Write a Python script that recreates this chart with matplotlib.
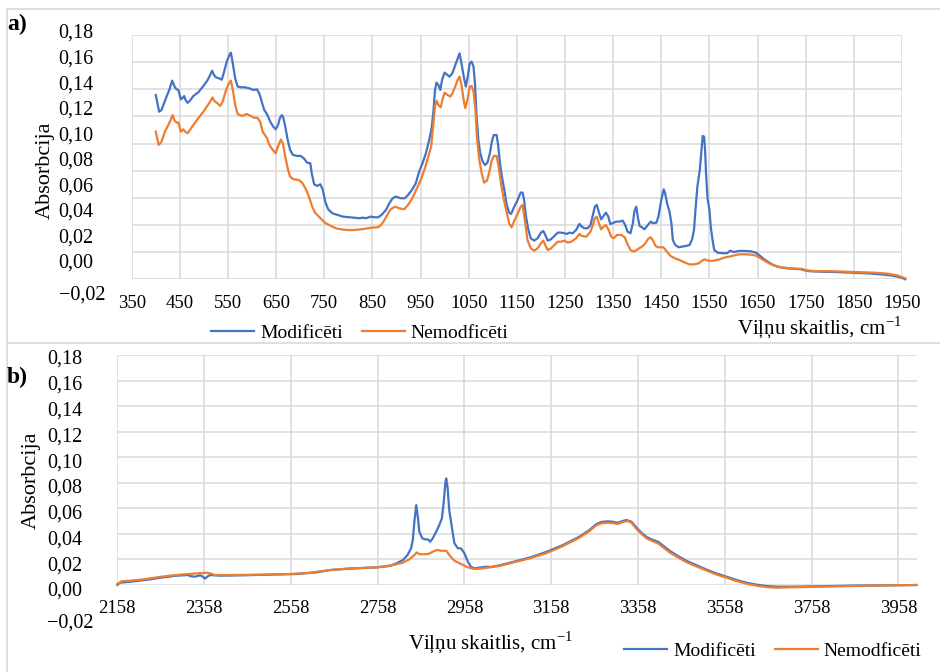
import matplotlib
matplotlib.use("Agg")
import matplotlib.pyplot as plt
from matplotlib.lines import Line2D

plt.rcParams['font.family'] = 'Liberation Serif'
plt.rcParams['font.size'] = 14
plt.rcParams['mathtext.fontset'] = 'custom'
plt.rcParams['mathtext.rm'] = 'Liberation Serif'

#a) 400-1950 cm-1, modified sample
wn_a_mod = [400, 407, 412, 421, 428, 434, 439, 443, 447, 452, 455, 459, 462, 466, 471, 478, 489, 499, 507, 513,
            517, 521, 525, 532, 537, 542, 547, 553, 556, 560, 565, 570, 576, 585, 596, 603, 610, 615, 620, 625,
            632, 638, 644, 649, 654, 658, 662, 665, 669, 674, 679, 685, 693, 701, 708, 714, 721, 724, 729, 735,
            742, 747, 752, 758, 767, 778, 788, 802, 812, 823, 830, 836, 847, 854, 862, 869, 878, 885, 892, 899,
            909, 917, 924, 933, 940, 947, 954, 961, 968, 973, 977, 980, 983, 987, 991, 995, 1000, 1006, 1010, 1016,
            1021, 1027, 1031, 1035, 1041, 1044, 1048, 1052, 1056, 1060, 1063, 1066, 1070, 1074, 1079, 1084, 1089, 1094, 1098, 1102,
            1108, 1111, 1115, 1119, 1124, 1129, 1134, 1138, 1144, 1151, 1158, 1162, 1165, 1169, 1174, 1179, 1186, 1193, 1200, 1205,
            1209, 1214, 1221, 1228, 1235, 1242, 1249, 1254, 1259, 1266, 1273, 1280, 1285, 1290, 1297, 1303, 1308, 1312, 1316, 1320,
            1325, 1330, 1335, 1340, 1344, 1349, 1356, 1363, 1370, 1375, 1380, 1386, 1391, 1394, 1398, 1401, 1405, 1410, 1415, 1422,
            1428, 1433, 1440, 1444, 1450, 1455, 1458, 1462, 1467, 1471, 1474, 1479, 1486, 1493, 1502, 1509, 1514, 1518, 1521, 1525,
            1530, 1533, 1536, 1539, 1541, 1543, 1546, 1550, 1553, 1557, 1560, 1567, 1578, 1587, 1593, 1600, 1612, 1622, 1636, 1647,
            1653, 1664, 1674, 1684, 1698, 1712, 1729, 1740, 1750, 1760, 1781, 1809, 1843, 1878, 1905, 1926, 1940, 1950, 1957]
abs_a_mod = [0.1358, 0.1235, 0.1248, 0.1334, 0.1395, 0.1464, 0.1420, 0.1400, 0.1395, 0.1326, 0.1334, 0.1350, 0.1320, 0.1300, 0.1316, 0.1350, 0.1380, 0.1425, 0.1464, 0.1505,
             0.1537, 0.1505, 0.1488, 0.1480, 0.1470, 0.1530, 0.1600, 0.1653, 0.1670, 0.1590, 0.1480, 0.1420, 0.1415, 0.1415, 0.1405, 0.1395, 0.1400, 0.1370, 0.1310, 0.1250,
             0.1210, 0.1160, 0.1125, 0.1105, 0.1137, 0.1190, 0.1210, 0.1190, 0.1125, 0.1027, 0.0953, 0.0916, 0.0909, 0.0909, 0.0890, 0.0860, 0.0855, 0.0780, 0.0700, 0.0688,
             0.0700, 0.0658, 0.0572, 0.0516, 0.0486, 0.0474, 0.0462, 0.0457, 0.0454, 0.0450, 0.0454, 0.0450, 0.0462, 0.0457, 0.0457, 0.0474, 0.0510, 0.0560, 0.0597, 0.0609,
             0.0597, 0.0597, 0.0621, 0.0663, 0.0707, 0.0793, 0.0855, 0.0928, 0.1027, 0.1113, 0.1248, 0.1395, 0.1449, 0.1432, 0.1395, 0.1474, 0.1523, 0.1505, 0.1493, 0.1518,
             0.1567, 0.1628, 0.1665, 0.1590, 0.1469, 0.1420, 0.1493, 0.1590, 0.1604, 0.1567, 0.1444, 0.1223, 0.1027, 0.0928, 0.0867, 0.0842, 0.0860, 0.0928, 0.1014, 0.1063,
             0.1063, 0.0990, 0.0855, 0.0756, 0.0658, 0.0548, 0.0491, 0.0481, 0.0530, 0.0580, 0.0639, 0.0639, 0.0585, 0.0462, 0.0363, 0.0302, 0.0285, 0.0302, 0.0344, 0.0356,
             0.0327, 0.0285, 0.0295, 0.0319, 0.0344, 0.0344, 0.0339, 0.0334, 0.0344, 0.0339, 0.0363, 0.0408, 0.0388, 0.0376, 0.0376, 0.0400, 0.0474, 0.0535, 0.0548, 0.0499,
             0.0442, 0.0467, 0.0491, 0.0462, 0.0408, 0.0413, 0.0425, 0.0425, 0.0432, 0.0400, 0.0351, 0.0339, 0.0413, 0.0499, 0.0535, 0.0462, 0.0393, 0.0383, 0.0368, 0.0400,
             0.0425, 0.0413, 0.0418, 0.0462, 0.0585, 0.0663, 0.0634, 0.0560, 0.0499, 0.0413, 0.0290, 0.0253, 0.0236, 0.0241, 0.0246, 0.0253, 0.0295, 0.0363, 0.0511, 0.0683,
             0.0806, 0.0928, 0.1056, 0.1051, 0.0950, 0.0780, 0.0600, 0.0510, 0.0380, 0.0277, 0.0216, 0.0196, 0.0192, 0.0192, 0.0211, 0.0201, 0.0209, 0.0209, 0.0206, 0.0196,
             0.0179, 0.0147, 0.0123, 0.0103, 0.0088, 0.0081, 0.0076, 0.0074, 0.0064, 0.0059, 0.0056, 0.0054, 0.0049, 0.0044, 0.0037, 0.0029, 0.0020, 0.0010, 0.0000]

#a) unmodified sample
wn_a_unmod = [400, 406, 412, 419, 426, 431, 435, 439, 443, 447, 452, 457, 461, 466, 471, 478, 489, 499, 507, 513,
              518, 521, 528, 534, 539, 546, 552, 556, 560, 565, 570, 579, 589, 598, 604, 611, 617, 622, 631, 636,
              643, 649, 655, 660, 664, 669, 674, 679, 686, 697, 704, 711, 718, 725, 731, 742, 752, 764, 774, 785,
              798, 812, 826, 840, 850, 861, 868, 875, 882, 888, 897, 906, 916, 924, 933, 944, 951, 959, 966, 972,
              976, 980, 983, 987, 992, 996, 1000, 1006, 1012, 1016, 1022, 1027, 1031, 1035, 1040, 1043, 1048, 1052, 1056, 1060,
              1064, 1067, 1072, 1077, 1082, 1088, 1093, 1097, 1102, 1108, 1112, 1117, 1123, 1130, 1134, 1139, 1144, 1151, 1158, 1162,
              1167, 1172, 1179, 1186, 1193, 1200, 1205, 1209, 1214, 1221, 1228, 1235, 1242, 1249, 1256, 1263, 1273, 1280, 1285, 1294,
              1303, 1308, 1312, 1316, 1320, 1325, 1330, 1335, 1340, 1346, 1351, 1358, 1367, 1374, 1379, 1386, 1393, 1401, 1410, 1417,
              1422, 1428, 1433, 1438, 1443, 1454, 1460, 1469, 1478, 1488, 1499, 1509, 1519, 1528, 1535, 1540, 1547, 1554, 1560, 1571,
              1581, 1591, 1602, 1612, 1622, 1636, 1647, 1653, 1664, 1674, 1684, 1698, 1712, 1733, 1743, 1752, 1767, 1809, 1850, 1891,
              1919, 1940, 1957]
abs_a_unmod = [0.1088, 0.0990, 0.1014, 0.1088, 0.1137, 0.1174, 0.1210, 0.1170, 0.1155, 0.1155, 0.1088, 0.1105, 0.1088, 0.1076, 0.1100, 0.1137, 0.1190, 0.1235, 0.1277, 0.1310,
               0.1340, 0.1316, 0.1297, 0.1277, 0.1310, 0.1395, 0.1444, 0.1464, 0.1395, 0.1285, 0.1218, 0.1203, 0.1218, 0.1203, 0.1190, 0.1190, 0.1160, 0.1088, 0.1040, 0.0990,
               0.0953, 0.0928, 0.0990, 0.1030, 0.1000, 0.0904, 0.0818, 0.0756, 0.0737, 0.0732, 0.0712, 0.0670, 0.0610, 0.0535, 0.0490, 0.0450, 0.0415, 0.0393, 0.0376, 0.0368,
               0.0363, 0.0363, 0.0368, 0.0376, 0.0381, 0.0383, 0.0400, 0.0437, 0.0481, 0.0516, 0.0535, 0.0523, 0.0516, 0.0548, 0.0597, 0.0683, 0.0737, 0.0818, 0.0904, 0.0977,
               0.1125, 0.1272, 0.1316, 0.1285, 0.1267, 0.1334, 0.1375, 0.1358, 0.1346, 0.1370, 0.1420, 0.1469, 0.1493, 0.1432, 0.1310, 0.1260, 0.1334, 0.1420, 0.1424, 0.1383,
               0.1248, 0.1051, 0.0879, 0.0781, 0.0712, 0.0727, 0.0793, 0.0867, 0.0909, 0.0909, 0.0830, 0.0707, 0.0585, 0.0474, 0.0413, 0.0383, 0.0425, 0.0478, 0.0535, 0.0548,
               0.0425, 0.0290, 0.0228, 0.0211, 0.0228, 0.0265, 0.0285, 0.0253, 0.0216, 0.0228, 0.0253, 0.0277, 0.0277, 0.0285, 0.0270, 0.0277, 0.0302, 0.0334, 0.0319, 0.0314,
               0.0351, 0.0400, 0.0450, 0.0462, 0.0418, 0.0368, 0.0388, 0.0400, 0.0368, 0.0314, 0.0302, 0.0327, 0.0327, 0.0310, 0.0265, 0.0216, 0.0204, 0.0221, 0.0241, 0.0265,
               0.0295, 0.0310, 0.0285, 0.0246, 0.0236, 0.0236, 0.0211, 0.0172, 0.0155, 0.0142, 0.0123, 0.0110, 0.0110, 0.0118, 0.0138, 0.0147, 0.0138, 0.0135, 0.0138, 0.0147,
               0.0160, 0.0167, 0.0177, 0.0184, 0.0184, 0.0182, 0.0174, 0.0162, 0.0138, 0.0118, 0.0101, 0.0088, 0.0083, 0.0078, 0.0076, 0.0066, 0.0061, 0.0059, 0.0054, 0.0049,
               0.0042, 0.0029, 0.0007]

#b) 2158-4000 cm-1
wn_b_mod = [2158, 2164, 2180, 2203, 2233, 2264, 2295, 2322, 2325, 2337, 2349, 2355, 2360, 2365, 2372, 2395, 2448, 2510, 2571, 2617,
            2648, 2694, 2756, 2786, 2801, 2816, 2827, 2835, 2839, 2843, 2847, 2851, 2854, 2861, 2868, 2874, 2879, 2885, 2893, 2900,
            2906, 2910, 2914, 2916, 2919, 2923, 2930, 2935, 2943, 2950, 2958, 2966, 2973, 2981, 2993, 3008, 3019, 3039, 3069, 3108,
            3146, 3185, 3223, 3246, 3261, 3273, 3288, 3300, 3311, 3325, 3332, 3343, 3354, 3366, 3377, 3389, 3404, 3419, 3431, 3450,
            3469, 3492, 3515, 3538, 3562, 3585, 3608, 3631, 3654, 3677, 3715, 3777, 3853, 3930, 4000]
abs_b_mod = [0.0000, 0.0018, 0.0023, 0.0031, 0.0044, 0.0060, 0.0073, 0.0078, 0.0070, 0.0065, 0.0076, 0.0065, 0.0050, 0.0065, 0.0078, 0.0073, 0.0076, 0.0081, 0.0086, 0.0099,
             0.0117, 0.0128, 0.0138, 0.0149, 0.0169, 0.0195, 0.0235, 0.0287, 0.0352, 0.0508, 0.0625, 0.0521, 0.0417, 0.0365, 0.0357, 0.0357, 0.0339, 0.0365, 0.0417, 0.0469,
             0.0521, 0.0638, 0.0795, 0.0834, 0.0769, 0.0586, 0.0430, 0.0326, 0.0287, 0.0287, 0.0248, 0.0182, 0.0143, 0.0130, 0.0136, 0.0143, 0.0141, 0.0154, 0.0180, 0.0214,
             0.0258, 0.0313, 0.0378, 0.0430, 0.0474, 0.0493, 0.0498, 0.0495, 0.0487, 0.0503, 0.0508, 0.0495, 0.0451, 0.0409, 0.0378, 0.0357, 0.0339, 0.0300, 0.0268, 0.0227,
             0.0190, 0.0156, 0.0122, 0.0091, 0.0065, 0.0039, 0.0018, 0.0003, -0.0008, -0.0013, -0.0013, -0.0010, -0.0005, -0.0003, 0.0000]

wn_b_unmod = [2158, 2168, 2187, 2218, 2249, 2279, 2310, 2341, 2364, 2372, 2383, 2418, 2487, 2556, 2602, 2648, 2694, 2756, 2793, 2816,
              2831, 2843, 2848, 2854, 2862, 2874, 2881, 2889, 2897, 2904, 2916, 2923, 2935, 2950, 2966, 2981, 3000, 3039, 3069, 3108,
              3146, 3185, 3223, 3246, 3261, 3273, 3288, 3300, 3311, 3325, 3335, 3343, 3354, 3366, 3377, 3389, 3404, 3419, 3431, 3450,
              3469, 3492, 3515, 3538, 3562, 3585, 3608, 3631, 3654, 3677, 3715, 3777, 3853, 3930, 4000]
abs_b_unmod = [0.0008, 0.0029, 0.0034, 0.0044, 0.0060, 0.0073, 0.0083, 0.0091, 0.0096, 0.0091, 0.0078, 0.0078, 0.0081, 0.0086, 0.0096, 0.0117, 0.0130, 0.0138, 0.0156, 0.0175,
               0.0201, 0.0235, 0.0255, 0.0242, 0.0240, 0.0242, 0.0253, 0.0268, 0.0274, 0.0268, 0.0268, 0.0235, 0.0190, 0.0164, 0.0138, 0.0125, 0.0130, 0.0149, 0.0175, 0.0208,
               0.0248, 0.0305, 0.0370, 0.0422, 0.0466, 0.0482, 0.0487, 0.0485, 0.0477, 0.0495, 0.0500, 0.0487, 0.0440, 0.0399, 0.0367, 0.0347, 0.0326, 0.0287, 0.0255, 0.0216,
               0.0180, 0.0146, 0.0115, 0.0083, 0.0057, 0.0031, 0.0010, -0.0005, -0.0016, -0.0021, -0.0018, -0.0013, -0.0008, -0.0003, 0.0000]

series_names = ['Modificēti', 'Nemodficēti']
xticks_a = list(range(350, 1951, 100))
xticks_b = list(range(2158, 3959, 200))
yticks = [0.00, 0.02, 0.04, 0.06, 0.08, 0.10, 0.12, 0.14, 0.16, 0.18]

blue = '#4472C4'
orange = '#ED7D31'
gridc = '#D9D9D9'

W, H = 940.0, 672.0
def fx(px):
    return px / W
def fy(py):
    return 1 - py / H

def comma(v):
    return ('%.2f' % v).replace('.', ',')

fig = plt.figure(figsize=(9.4, 6.72), dpi=100)

#frame lines round the two panels
for xs, ys in [([7, W], [9, 9]), ([7, 7], [9, H]), ([7, W], [343, 343])]:
    fig.add_artist(Line2D([fx(x) for x in xs], [fy(y) for y in ys], color=gridc, lw=1.2,
                          transform=fig.transFigure))

def panel(box, xlim, xticks, pad, wn_m, ab_m, wn_u, ab_u):
    l, t, r, b = box
    ax = fig.add_axes([fx(l), fy(b), (r - l) / W, (b - t) / H])
    ax.plot(wn_m, ab_m, color=blue, lw=1.6, clip_on=False, zorder=3)
    ax.plot(wn_u, ab_u, color=orange, lw=1.6, clip_on=False, zorder=4)
    ax.set_xlim(xlim)
    ax.set_ylim(0, 0.18)
    ax.set_xticks(xticks)
    ax.set_yticks(yticks)
    ax.tick_params(length=0, labelleft=False)
    ax.tick_params(axis='x', pad=pad, labelsize=13.5)
    ax.grid(True, color=gridc, lw=1.1)
    ax.set_axisbelow(True)
    for s in ax.spines.values():
        s.set_visible(False)
    return ax

def ylabels(top, bottom, right):
    # y tick labels sit in their own column beside the plot
    lab = fig.add_axes([fx(right + 3), fy(bottom), 0.001, (bottom - top) / H])
    lab.set_ylim(0, 0.18)
    lab.set_yticks(yticks, [comma(v) for v in yticks])
    lab.set_xticks([])
    lab.tick_params(length=0, pad=2, labelsize=14.5)
    lab.patch.set_visible(False)
    for s in lab.spines.values():
        s.set_visible(False)

leg_kw = dict(loc='center', ncol=2, frameon=False, fontsize=14, handlelength=2.2,
              handletextpad=0.3, columnspacing=1.0, borderpad=0, borderaxespad=0)
xlab = r'Viļņu skaitlis, cm$^{\mathregular{-1}}$'

# a)
ax1 = panel((131.7, 35, 902, 279.3), (350, 1950), xticks_a, 11.5,
            wn_a_mod, abs_a_mod, wn_a_unmod, abs_a_unmod)
ylabels(31, 261, 93)
fig.text(fx(105), fy(293), '−0,02', fontsize=14.5, ha='right', va='center_baseline')
fig.text(fx(45), fy(170), 'Absorbcija', fontsize=16, rotation=90, ha='center', va='center')
fig.text(fx(737), fy(328), xlab, fontsize=15, ha='left', va='center')
fig.text(fx(7), fy(24), 'a)', fontsize=17, fontweight='bold', ha='left', va='center')
fig.legend(ax1.get_lines(), series_names, bbox_to_anchor=(fx(360), fy(333)), **leg_kw)

# b)
ax2 = panel((117.3, 355, 917, 585), (2158, 4001), xticks_b, 11,
            wn_b_mod, abs_b_mod, wn_b_unmod, abs_b_unmod)
ylabels(357, 589, 82)
fig.text(fx(94), fy(621), '−0,02', fontsize=14.5, ha='right', va='center_baseline')
fig.text(fx(31), fy(480), 'Absorbcija', fontsize=16, rotation=90, ha='center', va='center')
fig.text(fx(408), fy(643), xlab, fontsize=15, ha='left', va='center')
fig.text(fx(7), fy(377), 'b)', fontsize=17, fontweight='bold', ha='left', va='center')
fig.legend(ax2.get_lines(), series_names, bbox_to_anchor=(fx(773), fy(651)), **leg_kw)

fig.savefig('out.png', dpi=100)
